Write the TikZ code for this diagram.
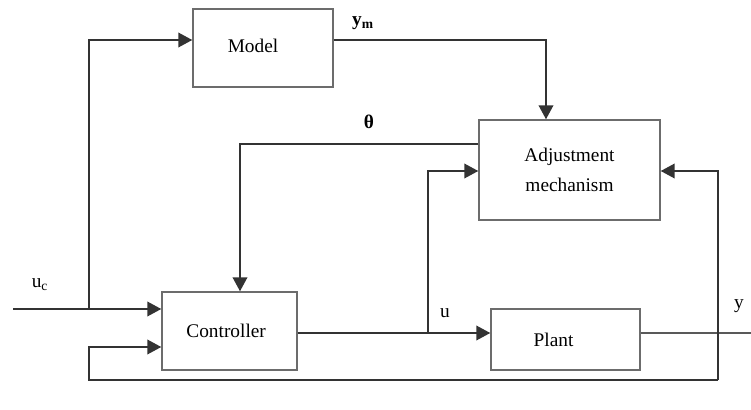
\documentclass[tikz,border=0pt]{standalone}
\usepackage{fontspec}
\setmainfont{Liberation Serif}
\usetikzlibrary{calc}
\usetikzlibrary{arrows.meta}

\begin{document}
\begin{tikzpicture}[x=0.75pt, y=-0.75pt,
                block/.style={draw=gray!85!black, line width=1.1pt, inner sep=0pt, align=center,
                    font=\fontsize{14.5}{22}\selectfont},
                arr/.style={draw=black!80, line width=1.3pt, -{Triangle[length=10.5pt,width=11pt]}},
                line/.style={draw=gray!70!black, line width=1.1pt},
                lbl/.style={font=\fontsize{14.5}{16}\selectfont}]
                \useasboundingbox (0,0) rectangle (751,410);

                % blocks
                \node[block, minimum width=105pt, minimum height=58.5pt] (model) at (263,48) {\hspace*{-15pt}\raisebox{4pt}{Model}};
                \node[block, minimum width=135.75pt, minimum height=75pt] (adj) at (569.5,170) {Adjustment\\mechanism};
                \node[block, minimum width=101.25pt, minimum height=58.5pt] (ctrl) at (229.5,331) {\hspace*{-5pt}Controller};
                \node[block, minimum width=111.75pt, minimum height=45.75pt] (plant) at (565.5,339.5) {\hspace*{-18pt}Plant};

                % junctions
                \coordinate (in) at (13,309);
                \coordinate (b1) at (89,309);
                \coordinate (b2) at (428,333);
                \coordinate (out) at (751,333);
                \coordinate (fb) at (718,380);
                \coordinate (fbl) at (89,380);

                % reference input u_c
                \draw[arr] (in) -- (in -| ctrl.west);
                \draw[arr] (b1) |- ($(model.west)+(0,-8)$);

                % model output y_m
                \draw[arr] ($(model.east)+(0,-8)$) -| ($(adj.north)+(-23.5,0)$);

                % parameter theta
                \draw[arr] ($(adj.west)+(0,-26)$) -| ($(ctrl.north)+(10.5,0)$);

                % control signal u
                \draw[arr] (ctrl.east |- b2) -- (plant.west |- b2);
                \draw[arr] (b2) |- ($(adj.west)+(0,1)$);

                % plant output y
                \draw[line] (plant.east |- out) -- (out);
                \draw[arr] (fb) |- ($(adj.east)+(0,1)$);
                \draw[arr] (fb) -- (fbl) |- ($(ctrl.west)+(0,16)$);

                % labels
                \node[lbl] (uc) at (40,285) {u\textsubscript{c}};
                \node[lbl] (ym) at (363,23) {\textbf{y\textsubscript{m}}};
                \node[lbl] (th) at (369,122) {\textbf{θ}};
                \node[lbl] (ul) at (445,313) {u};
                \node[lbl] (yl) at (739,306) {y};

            \end{tikzpicture}
\end{document}
